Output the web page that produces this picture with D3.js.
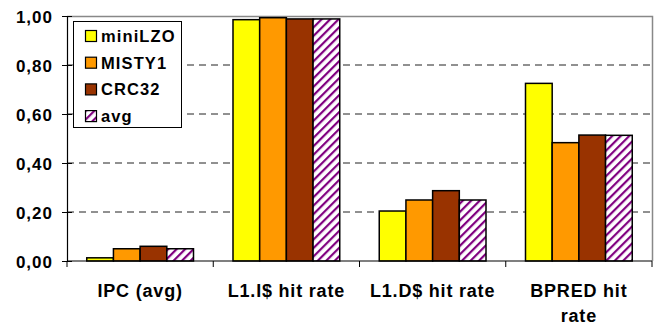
<!DOCTYPE html>
<html><head><meta charset="utf-8">
<script src="https://cdn.jsdelivr.net/npm/d3@7"></script>
<style>
body{margin:0;background:#fff;}
text{font-family:"Liberation Sans",Arial,sans-serif;font-weight:bold;fill:#000;}
</style></head>
<body><svg id="c" width="657" height="329"></svg>
<script>
const categories = ["IPC (avg)", "L1.I$ hit rate", "L1.D$ hit rate", "BPRED hit rate"];
const seriesNames = ["miniLZO", "MISTY1", "CRC32", "avg"];
const miniLZO = [0.013, 0.985, 0.204, 0.725];
const MISTY1  = [0.050, 0.993, 0.249, 0.483];
const CRC32   = [0.060, 0.988, 0.287, 0.514];
const avg     = [0.050, 0.988, 0.249, 0.513];
const yTicks = [0, 0.2, 0.4, 0.6, 0.8, 1.0];
const yTickLabels = ["0,00", "0,20", "0,40", "0,60", "0,80", "1,00"];
const colors = ["#FFFF00", "#FF9900", "#993300", "url(#stripes)"];
const seriesData = [miniLZO, MISTY1, CRC32, avg];

const svg = d3.select("#c");
const L = 67, R = 652, T = 16, B = 261;

const defs = svg.append("defs");
const pat = defs.append("pattern").attr("id","stripes").attr("patternUnits","userSpaceOnUse")
  .attr("width",6).attr("height",10).attr("patternTransform","rotate(45)");
pat.append("rect").attr("width",6).attr("height",10).attr("fill","#fff");
pat.append("rect").attr("width",2.2).attr("height",10).attr("fill","#800080");

const x0 = d3.scaleBand().domain(categories).range([L, R]).padding(0);
const x1 = d3.scaleBand().domain(seriesNames).range([0, x0.bandwidth()]).paddingInner(0).paddingOuter(0.74);
const y = d3.scaleLinear().domain([0, 1]).range([B, T]);

// gridlines
svg.append("g").selectAll("line").data(yTicks.filter(d => d > 0 && d < 1)).join("line")
  .attr("x1", L).attr("x2", R).attr("y1", d => y(d)).attr("y2", d => y(d))
  .attr("stroke", "#222").attr("stroke-width", 1).attr("stroke-dasharray", "7,5");
// plot border top/right
svg.append("path").attr("d", `M${L},${y(1)+0.5}H${R+0.5}V${B}`).attr("fill","none")
  .attr("stroke","#888").attr("stroke-width",1.5);

// bars
const groups = svg.append("g").selectAll("g").data(seriesNames).join("g");
groups.each(function(s, si){
  d3.select(this).selectAll("rect").data(seriesData[si]).join("rect")
    .attr("x", (d,i) => x0(categories[i]) + x1(s))
    .attr("y", d => y(d))
    .attr("width", x1.bandwidth())
    .attr("height", d => B - y(d))
    .attr("fill", colors[si])
    .attr("stroke", "#000").attr("stroke-width", 1.5);
});

// y axis
const yAxis = d3.axisLeft(y).tickValues(yTicks).tickSize(5).tickFormat((d,i) => yTickLabels[i]);
const yg = svg.append("g").attr("transform", `translate(${L},0)`).call(yAxis);
yg.select(".domain").attr("stroke","#000").attr("stroke-width",1.2);
yg.selectAll(".tick line").attr("x2", -5).attr("x1", 5).attr("stroke","#000");
yg.selectAll(".tick text").attr("x", -14).attr("dy", "0.36em")
  .style("font-size","17px").style("letter-spacing","1px").style("font-family","'Liberation Sans',Arial,sans-serif").style("font-weight","bold");

// x axis
const xAxis = d3.axisBottom(x0).tickSize(0).tickFormat("");
const xg = svg.append("g").attr("transform", `translate(0,${B})`).call(xAxis);
xg.select(".domain").attr("stroke","#000").attr("stroke-width",1.2).attr("d", `M${L},0H${R}`);
xg.selectAll(".tick").remove();
svg.append("g").selectAll("line").data(d3.range(categories.length + 1)).join("line")
  .attr("x1", i => L + i * x0.step()).attr("x2", i => L + i * x0.step())
  .attr("y1", B).attr("y2", B + 6).attr("stroke", "#000").attr("stroke-width", 1);

// category labels (wrap last)
const labelLines = [["IPC (avg)"], ["L1.I$ hit rate"], ["L1.D$ hit rate"], ["BPRED hit", "rate"]];
categories.forEach((c, i) => {
  const t = svg.append("text").attr("text-anchor","middle")
    .attr("x", x0(c) + x0.bandwidth()/2).attr("y", 297)
    .style("font-size","18px").style("letter-spacing","0.8px");
  labelLines[i].forEach((ln, j) => {
    t.append("tspan").attr("x", x0(c) + x0.bandwidth()/2).attr("y", 297 + j*25).text(ln);
  });
});

// legend
const lg = svg.append("g");
lg.append("rect").attr("x",73.5).attr("y",21.5).attr("width",108).attr("height",106)
  .attr("fill","#fff").attr("stroke","#000").attr("stroke-width",1);
seriesNames.forEach((s, i) => {
  const cy = 36 + i * 26.7;
  lg.append("rect").attr("x",85.5).attr("y",cy-5.5).attr("width",11).attr("height",11)
    .attr("fill", colors[i]).attr("stroke","#000").attr("stroke-width",1.2);
  lg.append("text").attr("x",101).attr("y",cy).attr("dy","0.36em")
    .style("font-size","16.5px").style("letter-spacing","1.1px").text(s);
});
</script></body></html>
